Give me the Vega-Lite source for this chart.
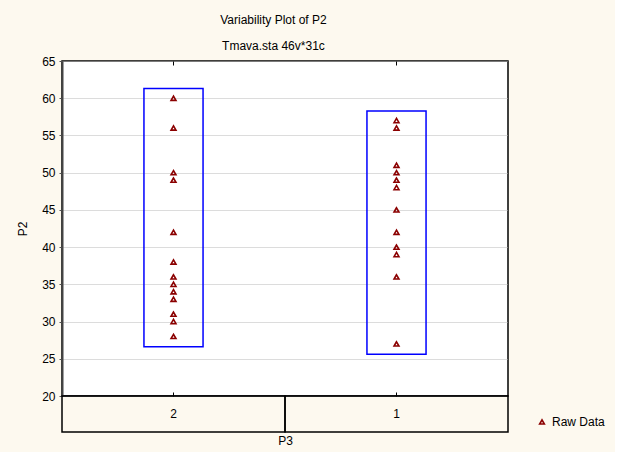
{
  "$schema": "https://vega.github.io/schema/vega-lite/v6.json",
  "autosize": {"type": "pad"},
  "padding": {"left": 15, "top": 14, "right": 10, "bottom": 20},
  "background": "#fdf9ef",
  "bounds": "flush",
  "config": {
    "font": "Liberation Sans",
    "view": {"stroke": "black", "strokeWidth": 1},
    "axisY": {"values": [20, 25, 30, 35, 40, 45, 50, 55, 60, 65], "labelFontSize": 12, "labelColor": "black", "tickSize": 3, "tickColor": "#555", "labelPadding": 4, "domainColor": "#444", "domainWidth": 2, "grid": true, "gridColor": "#b8b8b8", "gridDash": [1, 1], "titleFontWeight": "normal", "titleFontSize": 12, "titleColor": "black", "titlePadding": 12}
  },
  "title": {
    "text": "Variability Plot of P2",
    "subtitle": "Tmava.sta 46v*31c",
    "fontSize": 12,
    "fontWeight": "normal",
    "subtitleFontSize": 12,
    "subtitlePadding": 14,
    "anchor": "middle",
    "dx": -37,
    "offset": 1,
    "color": "black",
    "subtitleColor": "black"
  },
  "datasets": {
    "pts": [
      {"p3": "2", "p2": 60}, {"p3": "2", "p2": 56}, {"p3": "2", "p2": 50}, {"p3": "2", "p2": 49},
      {"p3": "2", "p2": 42}, {"p3": "2", "p2": 38}, {"p3": "2", "p2": 36}, {"p3": "2", "p2": 35},
      {"p3": "2", "p2": 34}, {"p3": "2", "p2": 33}, {"p3": "2", "p2": 31}, {"p3": "2", "p2": 30},
      {"p3": "2", "p2": 28},
      {"p3": "1", "p2": 57}, {"p3": "1", "p2": 56}, {"p3": "1", "p2": 51}, {"p3": "1", "p2": 50},
      {"p3": "1", "p2": 49}, {"p3": "1", "p2": 48}, {"p3": "1", "p2": 45}, {"p3": "1", "p2": 42},
      {"p3": "1", "p2": 40}, {"p3": "1", "p2": 39}, {"p3": "1", "p2": 36}, {"p3": "1", "p2": 27}
    ],
    "boxes": [
      {"p3": "2", "lo": 26.6, "hi": 61.3},
      {"p3": "1", "lo": 25.6, "hi": 58.3}
    ],
    "cats": [{"p3": "2"}, {"p3": "1"}]
  },
  "vconcat": [
    {
      "width": 446,
      "height": 335,
      "view": {"fill": "white", "stroke": "black", "strokeWidth": 1.5},
      "layer": [
        {
          "data": {"name": "boxes"},
          "mark": {"type": "bar", "fill": null, "fillOpacity": 0, "stroke": "#0000ff", "strokeWidth": 1.5, "width": {"band": 0.265}},
          "encoding": {
            "x": {"field": "p3", "type": "nominal", "sort": ["2", "1"],
              "scale": {"paddingInner": 0, "paddingOuter": 0},
              "axis": {"orient": "bottom", "labels": false, "title": null, "domain": false, "tickSize": -4, "tickColor": "black"}},
            "y": {"field": "lo", "type": "quantitative",
              "scale": {"domain": [20, 65], "nice": false, "zero": false},
              "axis": {"title": "P2"}},
            "y2": {"field": "hi"}
          }
        },
        {
          "data": {"name": "cats"},
          "mark": {"type": "point", "opacity": 0},
          "encoding": {
            "x": {"field": "p3", "type": "nominal", "sort": ["2", "1"],
              "axis": {"orient": "top", "labels": false, "title": null, "domain": false, "tickSize": -4, "tickColor": "black"}}
          }
        },
        {
          "data": {"name": "pts"},
          "mark": {"type": "point", "filled": false, "opacity": 1, "stroke": "#8b0000", "strokeWidth": 1.6, "size": 24},
          "encoding": {
            "x": {"field": "p3", "type": "nominal", "sort": ["2", "1"], "axis": null},
            "y": {"field": "p2", "type": "quantitative", "axis": {"title": "P2"}},
            "shape": {"datum": "Raw Data", "scale": {"range": ["triangle-up"]},
              "legend": {"title": null, "orient": "none", "legendX": 474, "legendY": 355, "labelFontSize": 12, "labelColor": "black", "symbolStrokeColor": "#8b0000", "symbolStrokeWidth": 1.6, "symbolSize": 22, "symbolFillColor": "transparent", "symbolOpacity": 1}}
          }
        }
      ],
      "resolve": {"axis": {"x": "independent"}}
    },
    {
      "width": 446,
      "height": 36,
      "view": {"fill": null, "stroke": null},
      "data": {"name": "cats"},
      "layer": [
        {
          "mark": {"type": "rect", "fill": null, "fillOpacity": 0, "stroke": "black", "strokeWidth": 1.5},
          "encoding": {
            "x": {"field": "p3", "type": "nominal", "sort": ["2", "1"],
              "scale": {"paddingInner": 0, "paddingOuter": 0},
              "axis": {"labels": false, "ticks": false, "domain": false, "title": "P3", "titleFontWeight": "normal", "titleFontSize": 12, "titleColor": "black", "titlePadding": 3}}
          }
        },
        {
          "mark": {"type": "text", "fontSize": 12, "color": "black"},
          "encoding": {
            "x": {"field": "p3", "type": "nominal", "sort": ["2", "1"]},
            "text": {"field": "p3"}
          }
        }
      ]
    }
  ],
  "spacing": 0
}
